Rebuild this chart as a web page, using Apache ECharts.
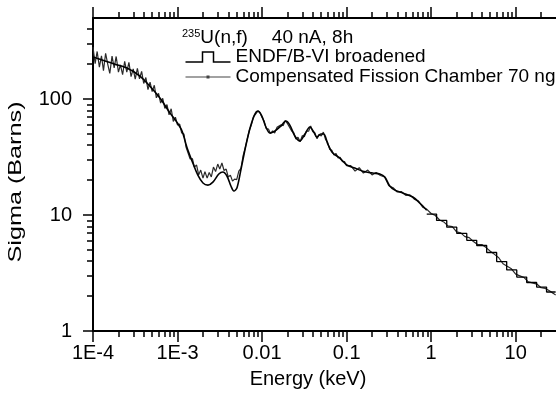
<!DOCTYPE html>
<html><head><meta charset="utf-8">
<script src="https://cdn.jsdelivr.net/npm/echarts@6/dist/echarts.min.js"></script>
<style>html,body{margin:0;padding:0;background:#fff}#c{width:556px;height:400px}</style>
</head><body><div id="c"></div>
<script>
const FONT = '"Liberation Sans", Arial, Helvetica, sans-serif';

// Tick values and labels
const xMajorTicks = [1e-4, 1e-3, 1e-2, 0.1, 1, 10];
const xTickLabels = ['1E-4', '1E-3', '0.01', '0.1', '1', '10'];
const yMajorTicks = [1, 10, 100];
const yTickLabels = ['1', '10', '100'];
const minorMult = [2, 3, 4, 5, 6, 7, 8, 9];

// Measured: Compensated Fission Chamber 70 ng (energy keV, sigma barns)
const measE = [
1.00e-4,1.06e-4,1.12e-4,1.19e-4,1.26e-4,1.33e-4,1.41e-4,1.50e-4,1.58e-4,1.68e-4,1.78e-4,1.88e-4,2.00e-4,2.11e-4,2.24e-4,2.37e-4,2.51e-4,2.66e-4,2.82e-4,2.99e-4,3.16e-4,3.35e-4,3.55e-4,3.76e-4,3.98e-4,4.22e-4,4.47e-4,4.73e-4,5.01e-4,5.31e-4,5.62e-4,5.96e-4,6.31e-4,6.68e-4,7.08e-4,7.50e-4,7.94e-4,8.41e-4,8.91e-4,9.44e-4,
1.00e-3,1.06e-3,1.12e-3,1.19e-3,1.26e-3,1.33e-3,1.41e-3,1.50e-3,1.58e-3,1.68e-3,1.78e-3,1.88e-3,2.00e-3,2.11e-3,2.24e-3,2.37e-3,2.51e-3,2.66e-3,2.82e-3,2.99e-3,3.16e-3,3.35e-3,3.55e-3,3.76e-3,3.98e-3,4.22e-3,4.47e-3,4.73e-3,5.01e-3,5.31e-3,5.62e-3,5.96e-3,6.31e-3,6.68e-3,7.08e-3,7.50e-3,7.94e-3,8.41e-3,8.91e-3,9.44e-3,
1.00e-2,1.06e-2,1.12e-2,1.19e-2,1.26e-2,1.33e-2,1.41e-2,1.50e-2,1.58e-2,1.68e-2,1.78e-2,1.88e-2,2.00e-2,2.11e-2,2.24e-2,2.37e-2,2.51e-2,2.66e-2,2.82e-2,2.99e-2,3.16e-2,3.35e-2,3.55e-2,3.76e-2,3.98e-2,4.22e-2,4.47e-2,4.73e-2,5.01e-2,5.31e-2,5.62e-2,5.96e-2,6.31e-2,6.68e-2,7.08e-2,7.50e-2,7.94e-2,8.41e-2,8.91e-2,9.44e-2,
0.100,0.112,0.126,0.141,0.158,0.178,0.200,0.224,0.251,0.282,0.316,0.355,0.398,0.447,0.501,0.562,0.631,0.708,0.794,0.891,
1.00,1.12,1.26,1.41,1.58,1.78,2.00,2.24,2.51,2.82,3.16,3.55,3.98,4.47,5.01,5.62,6.31,7.08,7.94,8.91,10.0,11.2,12.6,14.1,15.8,17.8,20.0,22.4,25.1,28.2,29.7
];
const measS = [
280.7,201.5,257.3,188.4,235.7,176.1,248.3,197.2,166.2,234.8,185.8,232.9,170.9,197.2,162.7,211.8,170.9,207.6,156.3,182.1,148.4,183.5,149.6,173.3,136.3,153.2,120.5,139.9,115.8,131.5,102.4,112.0,92.4,101.6,83.0,89.7,73.1,82.5,64.1,69.8,
59.7,60.9,50.9,49.9,38.6,37.8,30.4,30.7,25.9,27.0,22.2,24.4,20.8,23.7,20.8,23.3,21.3,25.9,23.7,27.5,24.9,28.1,24.2,24.9,21.3,22.1,19.6,20.4,20.2,23.9,25.2,32.3,37.8,45.2,54.1,60.4,70.9,74.3,78.8,76.3,
69.3,64.2,55.6,55.2,50.2,53.1,50.9,57.0,55.6,59.9,59.0,65.3,61.4,62.3,53.0,51.3,45.2,46.9,42.9,48.4,47.3,52.8,52.8,58.5,52.2,51.1,45.4,49.6,48.0,51.9,45.1,42.3,36.8,36.2,33.0,34.0,31.1,31.4,28.9,28.9,
26.6,26.7,23.9,25.6,23.0,24.4,22.2,23.3,21.9,21.3,17.9,17.2,15.8,15.9,14.8,14.9,13.7,13.2,11.7,11.2,
10.3,9.90,9.06,8.72,8.07,7.94,7.15,7.02,6.51,6.39,5.92,5.57,5.56,5.24,4.87,4.58,4.28,3.80,3.61,3.44,3.09,2.99,2.89,2.65,2.60,2.54,2.36,2.33,2.22,2.10,2.04
];

// ENDF/B-VI broadened: smooth part (below ~1 keV)
const endfE = [1.00e-4,1.39e-4,1.82e-4,2.52e-4,3.59e-4,4.72e-4,6.19e-4,8.13e-4,9.84e-4,1.13e-3,1.29e-3,1.52e-3,1.74e-3,2.00e-3,2.29e-3,2.62e-3,3.08e-3,3.44e-3,3.84e-3,4.28e-3,4.64e-3,5.04e-3,5.61e-3,6.44e-3,7.38e-3,8.22e-3,8.92e-3,9.95e-3,1.11e-2,1.24e-2,1.42e-2,1.67e-2,1.91e-2,2.13e-2,2.44e-2,2.80e-2,3.21e-2,3.67e-2,4.09e-2,4.44e-2,4.96e-2,5.37e-2,6.00e-2,6.87e-2,8.31e-2,0.1005,0.125,0.155,0.204,0.247,0.283,0.324,0.372,0.461,0.607,0.733,0.887];
const endfS = [230,213,200,185,158,129,102,76,63,53,38.5,28,22.1,18.9,18.1,19.2,22.6,23.5,21.7,17.8,16.1,17.1,24.4,40,59.7,74.3,78.8,71.3,57.4,50.9,53,58.5,64.6,59.7,48,43.5,49.9,57.4,52,47,49.9,49.9,40.9,34.2,31,27,25.4,23.9,23,22.6,21.3,17.8,16.4,15.5,14.3,12.7,11.0];
// ENDF/B-VI broadened: histogram part (bin left edges and values)
const endfStepE = [0.887,1.16,1.53,2.01,2.64,3.46,4.54,5.96,7.83,10.3,13.5,17.7,23.2,29.7];
const endfStepS = [10.2,8.98,7.85,6.94,6.05,5.46,4.75,3.97,3.36,2.92,2.62,2.39,2.17,2.17];

const zip = (a, b) => a.map((v, i) => [v, b[i]]);
const near = (v, t) => Math.abs(Math.log10(v) - Math.log10(t)) < 1e-6;
const fmt = (ticks, labels) => (v) => { const i = ticks.findIndex(t => near(v, t)); return i >= 0 ? labels[i] : ''; };

const xMinor = [];
[1e-4, 1e-3, 1e-2, 0.1, 1, 10].forEach(d => minorMult.forEach(m => { const v = d * m; if (v < 30) xMinor.push(v); }));
const yMinor = [];
[1, 10, 100].forEach(d => minorMult.forEach(m => { const v = d * m; if (v < 500) yMinor.push(v); }));

const tickLine = { color: '#000', width: 1.5 };
const xBase = { type: 'log', logBase: 10, min: 1e-4, max: 30, splitLine: { show: false } };
const yBase = { type: 'log', logBase: 10, min: 1, max: 500, splitLine: { show: false } };

const chart = echarts.init(document.getElementById('c'), null, { renderer: 'canvas' });
chart.setOption({
  animation: false,
  backgroundColor: '#fff',
  grid: { left: 93, right: 0, top: 18, bottom: 69, containLabel: false },
  title: {
    left: 182, top: 28, padding: 0,
    text: '{s|235}{m|U(n,f)}{g|40 nA, 8h}',
    textStyle: {
      fontWeight: 'normal',
      rich: {
        s: { fontSize: 11, lineHeight: 12, verticalAlign: 'top', color: '#000', fontFamily: FONT, fontWeight: 'normal' },
        m: { fontSize: 19, lineHeight: 20, color: '#000', fontFamily: FONT, fontWeight: 'normal' },
        g: { fontSize: 19, lineHeight: 20, color: '#000', fontFamily: FONT, fontWeight: 'normal', padding: [0, 0, 0, 24] }
      }
    }
  },
  legend: {
    left: 183, top: 47, orient: 'vertical', padding: 0, itemGap: 0,
    itemWidth: 45, itemHeight: 10, selectedMode: false,
    textStyle: { fontSize: 19, lineHeight: 20, color: '#000', fontFamily: FONT },
    data: [
      { name: 'ENDF/B-VI broadened', icon: 'path://M0,10L17,10L17,0L28,0L28,10L45,10',
        itemStyle: { color: 'none', borderColor: '#000', borderWidth: 1.5 } },
      { name: 'Compensated Fission Chamber 70 ng', icon: 'path://M0,4.5L45,4.5L45,5.5L0,5.5ZM21,3.5L24,3.5L24,6.5L21,6.5Z',
        itemStyle: { color: '#444', borderWidth: 0 } }
    ]
  },
  graphic: [
    { type: 'text', x: 16, y: 182, rotation: Math.PI / 2, scaleX: 1.4, silent: true,
      style: { text: 'Sigma (Barns)', font: '18px "Liberation Sans", Arial, sans-serif', fill: '#000', align: 'center', verticalAlign: 'middle' } }
  ],
  xAxis: [
    Object.assign({}, xBase, {
      position: 'bottom',
      axisLine: { show: true, onZero: false, lineStyle: { color: '#000', width: 2 } },
      axisTick: { show: true, inside: false, length: 11, customValues: xMajorTicks, lineStyle: tickLine },
      axisLabel: { show: true, customValues: xMajorTicks, margin: 12, color: '#000', fontSize: 20, fontFamily: FONT, formatter: fmt(xMajorTicks, xTickLabels) },
      name: 'Energy (keV)', nameLocation: 'middle', nameGap: 38,
      nameTextStyle: { fontSize: 20, color: '#000', fontFamily: FONT, padding: [0, 33, 0, 0] }
    }),
    Object.assign({}, xBase, {
      position: 'bottom',
      axisLine: { show: false },
      axisTick: { show: true, inside: false, length: 6, customValues: xMinor, lineStyle: tickLine },
      axisLabel: { show: false }
    }),
    Object.assign({}, xBase, {
      position: 'top',
      axisLine: { show: true, onZero: false, lineStyle: { color: '#000', width: 2 } },
      axisTick: { show: true, inside: false, length: 11, customValues: xMajorTicks, lineStyle: tickLine },
      axisLabel: { show: false }
    }),
    Object.assign({}, xBase, {
      position: 'top',
      axisLine: { show: false },
      axisTick: { show: true, inside: false, length: 6, customValues: xMinor, lineStyle: tickLine },
      axisLabel: { show: false }
    })
  ],
  yAxis: [
    Object.assign({}, yBase, {
      position: 'left',
      axisLine: { show: true, onZero: false, lineStyle: { color: '#000', width: 2 } },
      axisTick: { show: true, inside: false, length: 10, customValues: yMajorTicks, lineStyle: tickLine },
      axisLabel: { show: true, customValues: yMajorTicks, margin: 21, color: '#000', fontSize: 20, fontFamily: FONT, formatter: fmt(yMajorTicks, yTickLabels) }
    }),
    Object.assign({}, yBase, {
      position: 'left',
      axisLine: { show: false },
      axisTick: { show: true, inside: false, length: 6, customValues: yMinor, lineStyle: tickLine },
      axisLabel: { show: false }
    })
  ],
  series: [
    { type: 'line', name: 'Compensated Fission Chamber 70 ng', xAxisIndex: 0, yAxisIndex: 0,
      data: zip(measE, measS), showSymbol: false, silent: true, z: 2,
      lineStyle: { color: '#2a2a2a', width: 1.2 }, itemStyle: { color: '#444' } },
    { type: 'line', name: 'ENDF/B-VI broadened', xAxisIndex: 0, yAxisIndex: 0,
      data: zip(endfE, endfS), smooth: 0.3, showSymbol: false, silent: true, z: 3,
      lineStyle: { color: '#000', width: 1.6 }, itemStyle: { color: '#000' } },
    { type: 'line', name: 'ENDF/B-VI broadened', xAxisIndex: 0, yAxisIndex: 0,
      data: zip(endfStepE, endfStepS), step: 'end', showSymbol: false, silent: true, z: 3,
      lineStyle: { color: '#000', width: 1.3 }, itemStyle: { color: '#000' } }
  ]
});
</script>
</body></html>
